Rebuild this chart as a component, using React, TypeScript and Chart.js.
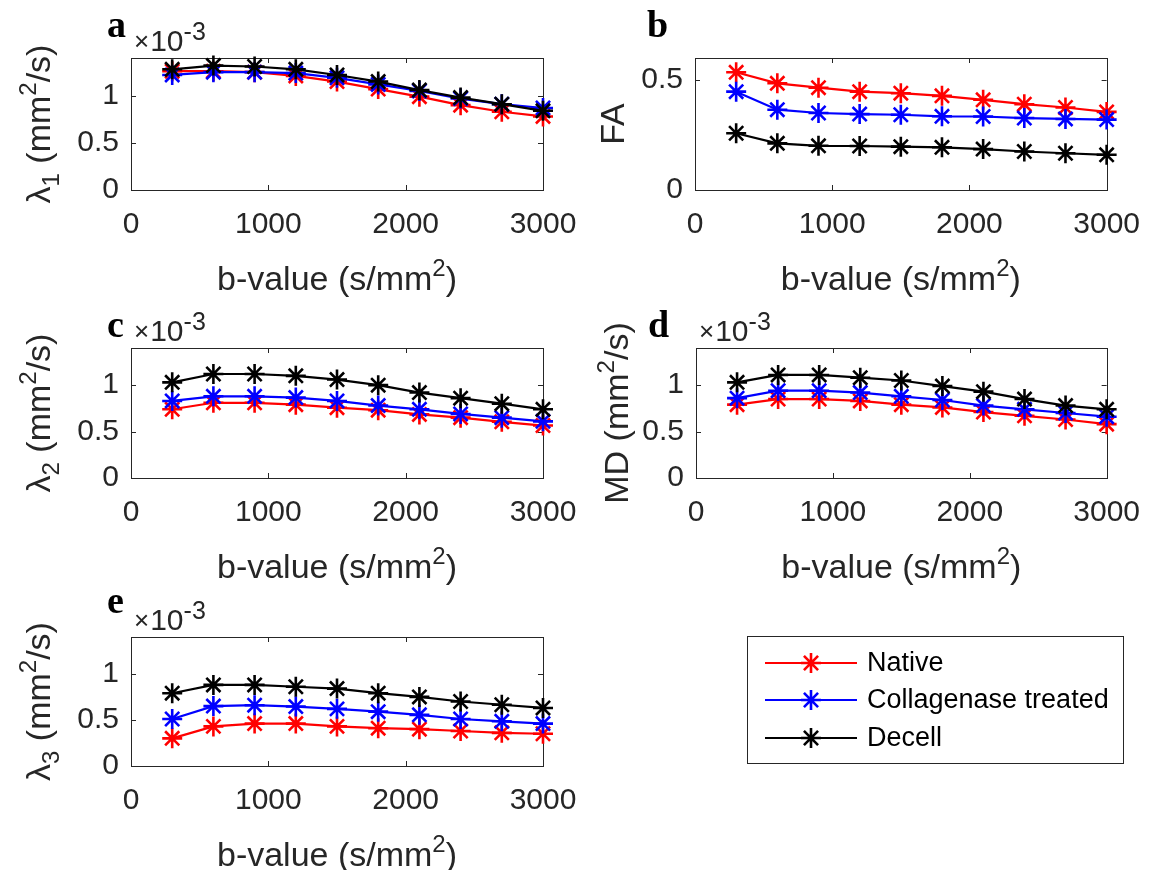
import React, { useEffect, useRef } from 'react';
import { Chart, registerables } from 'chart.js';

Chart.register(...registerables);

// ---------- data ----------
const bValues = [300, 600, 900, 1200, 1500, 1800, 2100, 2400, 2700, 3000];
const xTickValues = [0, 1000, 2000, 3000];
const diffTickValues = [0, 0.5, 1];
const faTickValues = [0, 0.5];
const groupNames = ['Native', 'Collagenase treated', 'Decell'];
const groupColors = ['#ff0000', '#0000ff', '#000000'];

// eigenvalues / MD in units of 10^-3 mm^2/s
const lambda1Native = [1.26, 1.26, 1.25, 1.21, 1.15, 1.07, 0.99, 0.9, 0.83, 0.78];
const lambda1Collagenase = [1.22, 1.25, 1.25, 1.24, 1.19, 1.12, 1.05, 0.97, 0.91, 0.87];
const lambda1Decell = [1.28, 1.32, 1.31, 1.28, 1.22, 1.15, 1.06, 0.98, 0.91, 0.84];

const faNative = [0.535, 0.485, 0.465, 0.447, 0.44, 0.428, 0.41, 0.39, 0.375, 0.355];
const faCollagenase = [0.447, 0.365, 0.35, 0.345, 0.342, 0.335, 0.334, 0.327, 0.323, 0.32];
const faDecell = [0.258, 0.212, 0.201, 0.2, 0.197, 0.194, 0.186, 0.175, 0.167, 0.16];

const lambda2Native = [0.74, 0.81, 0.81, 0.79, 0.757, 0.73, 0.685, 0.65, 0.605, 0.565];
const lambda2Collagenase = [0.83, 0.88, 0.88, 0.866, 0.83, 0.78, 0.74, 0.69, 0.65, 0.61];
const lambda2Decell = [1.03, 1.12, 1.12, 1.1, 1.06, 1.0, 0.92, 0.86, 0.8, 0.74];

const mdNative = [0.79, 0.85, 0.85, 0.83, 0.79, 0.76, 0.71, 0.67, 0.63, 0.58];
const mdCollagenase = [0.86, 0.94, 0.94, 0.92, 0.88, 0.84, 0.78, 0.74, 0.7, 0.66];
const mdDecell = [1.03, 1.11, 1.11, 1.08, 1.05, 0.99, 0.93, 0.85, 0.78, 0.74];

const lambda3Native = [0.3, 0.43, 0.46, 0.46, 0.43, 0.41, 0.4, 0.38, 0.36, 0.35];
const lambda3Collagenase = [0.51, 0.65, 0.66, 0.645, 0.62, 0.59, 0.555, 0.51, 0.485, 0.46];
const lambda3Decell = [0.79, 0.88, 0.88, 0.86, 0.84, 0.79, 0.75, 0.7, 0.665, 0.63];

// ---------- styling / layout ----------
const SANS = '"Liberation Sans", Arial, Helvetica, sans-serif';
const SERIF = '"Liberation Serif", "Times New Roman", serif';
const AXIS_COLOR = '#262626';
const TICK_FONT = 30;
const TITLE_FONT = 34;
const MARKER_R = 10;
const MARKER_W = 2.6;
const LINE_W = 2.2;

type Seg = { t: string; s?: 'sup' | 'sub' };
type Rect = { left: number; top: number; right: number; bottom: number };

interface PanelSpec {
  key: string;
  letter: string;
  series: number[][];
  yMax: number;
  yTicks: number[];
  yTitle: Seg[];
  exponent: boolean;
  canvas: { left: number; top: number; width: number; height: number };
  area: Rect;
  letterX: number;
  letterY: number;
  yTitleX: number;
  legend?: boolean;
}

const xTitle: Seg[] = [{ t: 'b-value (s/mm' }, { t: '2', s: 'sup' }, { t: ')' }];
const unitSegs: Seg[] = [{ t: ' (mm' }, { t: '2', s: 'sup' }, { t: '/s)' }];

const panels: PanelSpec[] = [
  {
    key: 'a', letter: 'a',
    series: [lambda1Native, lambda1Collagenase, lambda1Decell],
    yMax: 1.4, yTicks: diffTickValues,
    yTitle: [{ t: 'λ' }, { t: '1', s: 'sub' }, ...unitSegs],
    exponent: true,
    canvas: { left: 0, top: 0, width: 600, height: 300 },
    area: { left: 131, top: 58, right: 543, bottom: 190 },
    letterX: 107, letterY: 37, yTitleX: 50,
  },
  {
    key: 'b', letter: 'b',
    series: [faNative, faCollagenase, faDecell],
    yMax: 0.6, yTicks: faTickValues,
    yTitle: [{ t: 'FA' }],
    exponent: false,
    canvas: { left: 560, top: 0, width: 597, height: 300 },
    area: { left: 695, top: 58, right: 1108, bottom: 190 },
    letterX: 647, letterY: 37, yTitleX: 624,
  },
  {
    key: 'c', letter: 'c',
    series: [lambda2Native, lambda2Collagenase, lambda2Decell],
    yMax: 1.4, yTicks: diffTickValues,
    yTitle: [{ t: 'λ' }, { t: '2', s: 'sub' }, ...unitSegs],
    exponent: true,
    canvas: { left: 0, top: 290, width: 600, height: 300 },
    area: { left: 131, top: 348, right: 543, bottom: 478 },
    letterX: 107, letterY: 337, yTitleX: 50,
  },
  {
    key: 'd', letter: 'd',
    series: [mdNative, mdCollagenase, mdDecell],
    yMax: 1.4, yTicks: diffTickValues,
    yTitle: [{ t: 'MD' }, ...unitSegs],
    exponent: true,
    canvas: { left: 560, top: 290, width: 597, height: 300 },
    area: { left: 696, top: 348, right: 1108, bottom: 478 },
    letterX: 648, letterY: 337, yTitleX: 628,
  },
  {
    key: 'e', letter: 'e',
    series: [lambda3Native, lambda3Collagenase, lambda3Decell],
    yMax: 1.4, yTicks: diffTickValues,
    yTitle: [{ t: 'λ' }, { t: '3', s: 'sub' }, ...unitSegs],
    exponent: true,
    canvas: { left: 0, top: 578, width: 1157, height: 292 },
    area: { left: 131, top: 637, right: 543, bottom: 766 },
    letterX: 107, letterY: 613, yTitleX: 50,
    legend: true,
  },
];

// ---------- rich text helpers ----------
function segFont(seg: Seg, base: number) {
  const size = seg.s ? Math.round(base * 0.7) : base;
  return `${size}px ${SANS}`;
}
function segDy(seg: Seg, base: number) {
  if (seg.s === 'sup') return -0.42 * base;
  if (seg.s === 'sub') return 0.27 * base;
  return 0;
}
function richWidth(ctx: CanvasRenderingContext2D, segs: Seg[], base: number) {
  let w = 0;
  for (const s of segs) {
    ctx.font = segFont(s, base);
    w += ctx.measureText(s.t).width;
  }
  return w;
}
function drawRich(ctx: CanvasRenderingContext2D, segs: Seg[], x: number, y: number, base: number, center: boolean) {
  let cx = center ? x - richWidth(ctx, segs, base) / 2 : x;
  ctx.textAlign = 'left';
  ctx.textBaseline = 'alphabetic';
  for (const s of segs) {
    ctx.font = segFont(s, base);
    ctx.fillText(s.t, cx, y + segDy(s, base));
    cx += ctx.measureText(s.t).width;
  }
}

function makeDecor(spec: PanelSpec) {
  const ox = spec.canvas.left;
  const oy = spec.canvas.top;
  return {
    id: 'decor_' + spec.key,
    beforeDatasetsDraw(chart: any) {
      const ctx: CanvasRenderingContext2D = chart.ctx;
      const { left, top, right, bottom } = chart.chartArea;
      const xs = chart.scales.x;
      const ys = chart.scales.y;
      ctx.save();
      ctx.fillStyle = '#ffffff';
      ctx.fillRect(left, top, right - left, bottom - top);
      ctx.strokeStyle = AXIS_COLOR;
      ctx.lineWidth = 1;
      ctx.strokeRect(Math.round(left) + 0.5, Math.round(top) + 0.5, Math.round(right - left), Math.round(bottom - top));
      const tl = 5;
      ctx.beginPath();
      for (const v of xTickValues) {
        const px = Math.round(xs.getPixelForValue(v)) + 0.5;
        ctx.moveTo(px, bottom); ctx.lineTo(px, bottom - tl);
        ctx.moveTo(px, top); ctx.lineTo(px, top + tl);
      }
      for (const v of spec.yTicks) {
        const py = Math.round(ys.getPixelForValue(v)) + 0.5;
        ctx.moveTo(left, py); ctx.lineTo(left + tl, py);
        ctx.moveTo(right, py); ctx.lineTo(right - tl, py);
      }
      ctx.stroke();
      ctx.restore();
    },
    afterDraw(chart: any) {
      const ctx: CanvasRenderingContext2D = chart.ctx;
      const { left, top, right, bottom } = chart.chartArea;
      ctx.save();
      ctx.fillStyle = AXIS_COLOR;
      // x title
      drawRich(ctx, xTitle, (left + right) / 2, bottom + 100, TITLE_FONT, true);
      // y title (rotated)
      ctx.save();
      ctx.translate(spec.yTitleX - ox, (top + bottom) / 2);
      ctx.rotate(-Math.PI / 2);
      drawRich(ctx, spec.yTitle, 0, 0, TITLE_FONT, true);
      ctx.restore();
      // exponent
      if (spec.exponent) {
        const ex = left + 3;
        const ey = top - 7;
        ctx.textAlign = 'left';
        ctx.textBaseline = 'alphabetic';
        ctx.font = `26px ${SANS}`;
        ctx.fillText('×', ex, ey - 1);
        const wx = ctx.measureText('×').width;
        ctx.font = `${TICK_FONT}px ${SANS}`;
        ctx.fillText('10', ex + wx + 1, ey);
        const w = ctx.measureText('10').width;
        ctx.font = `25px ${SANS}`;
        ctx.fillText('-3', ex + wx + 1 + w, ey - 11);
      }
      // panel letter
      ctx.fillStyle = '#000000';
      ctx.font = `bold 38px ${SERIF}`;
      ctx.textAlign = 'left';
      ctx.textBaseline = 'alphabetic';
      ctx.fillText(spec.letter, spec.letterX - ox, spec.letterY - oy);
      // legend
      if (spec.legend) {
        const bx = 747 - ox, by = 636 - oy, bw = 376, bh = 127;
        ctx.fillStyle = '#ffffff';
        ctx.fillRect(bx, by, bw, bh);
        ctx.strokeStyle = AXIS_COLOR;
        ctx.lineWidth = 1;
        ctx.strokeRect(bx + 0.5, by + 0.5, bw, bh);
        const rows = [663, 700, 738];
        chart.data.datasets.forEach((ds: any, i: number) => {
          const ry = rows[i] - oy;
          ctx.strokeStyle = ds.borderColor;
          ctx.lineWidth = LINE_W;
          ctx.beginPath();
          ctx.moveTo(765 - ox, ry); ctx.lineTo(857 - ox, ry);
          ctx.stroke();
          const r = MARKER_R;
          const cx = 811 - ox;
          ctx.lineWidth = MARKER_W;
          ctx.beginPath();
          ctx.moveTo(cx, ry - r); ctx.lineTo(cx, ry + r);
          ctx.moveTo(cx - r, ry); ctx.lineTo(cx + r, ry);
          const d = r * Math.SQRT1_2;
          ctx.moveTo(cx - d, ry - d); ctx.lineTo(cx + d, ry + d);
          ctx.moveTo(cx - d, ry + d); ctx.lineTo(cx + d, ry - d);
          ctx.stroke();
          ctx.fillStyle = '#000000';
          ctx.font = `27px ${SANS}`;
          ctx.textAlign = 'left';
          ctx.textBaseline = 'middle';
          ctx.fillText(ds.label, 867 - ox, ry + 1);
        });
      }
      ctx.restore();
    },
  };
}

function Panel({ spec }: { spec: PanelSpec }) {
  const ref = useRef<HTMLCanvasElement | null>(null);
  useEffect(() => {
    if (!ref.current) return;
    const c = spec.canvas;
    const a = spec.area;
    const padTop = a.top - c.top;
    const yW = a.left - c.left;
    const padRight = c.left + c.width - a.right;
    const xH = c.top + c.height - a.bottom;
    const chart = new Chart(ref.current, {
      type: 'line',
      data: {
        datasets: spec.series.map((vals, i) => ({
          label: groupNames[i],
          data: bValues.map((b, j) => ({ x: b, y: vals[j] })),
          borderColor: groupColors[i],
          backgroundColor: groupColors[i],
          pointBorderColor: groupColors[i],
          pointBackgroundColor: groupColors[i],
          borderWidth: LINE_W,
          pointStyle: 'star',
          pointRadius: MARKER_R,
          pointBorderWidth: MARKER_W,
          tension: 0,
          fill: false,
          clip: false as any,
          order: 3 - i,
        })),
      },
      options: {
        animation: false,
        responsive: false,
        maintainAspectRatio: false,
        devicePixelRatio: 1,
        events: [],
        layout: { padding: { left: 0, top: padTop, right: padRight, bottom: 0 } },
        plugins: { legend: { display: false }, tooltip: { enabled: false }, title: { display: false } },
        scales: {
          x: {
            type: 'linear',
            min: 0,
            max: 3000,
            grid: { display: false, drawTicks: false },
            border: { display: false },
            afterBuildTicks: (s: any) => { s.ticks = xTickValues.map((v) => ({ value: v })); },
            afterFit: (s: any) => { s.height = xH; },
            ticks: {
              autoSkip: false,
              maxRotation: 0,
              minRotation: 0,
              padding: 17,
              color: AXIS_COLOR,
              font: { family: SANS, size: TICK_FONT },
              callback: (v: any) => String(v),
            },
          },
          y: {
            type: 'linear',
            min: 0,
            max: spec.yMax,
            grid: { display: false, drawTicks: false },
            border: { display: false },
            afterBuildTicks: (s: any) => { s.ticks = spec.yTicks.map((v) => ({ value: v })); },
            afterFit: (s: any) => { s.width = yW; },
            ticks: {
              padding: 12,
              color: AXIS_COLOR,
              font: { family: SANS, size: TICK_FONT },
              callback: (v: any) => String(v),
            },
          },
        },
      } as any,
      plugins: [makeDecor(spec)],
    });
    return () => chart.destroy();
  }, [spec]);
  const c = spec.canvas;
  return (
    <canvas
      ref={ref}
      width={c.width}
      height={c.height}
      style={{ position: 'absolute', left: c.left, top: c.top, width: c.width, height: c.height }}
    />
  );
}

export default function App() {
  return (
    <div style={{ position: 'absolute', left: 0, top: 0, width: 1157, height: 870, background: '#ffffff', overflow: 'hidden' }}>
      {panels.map((p) => (
        <Panel key={p.key} spec={p} />
      ))}
    </div>
  );
}
